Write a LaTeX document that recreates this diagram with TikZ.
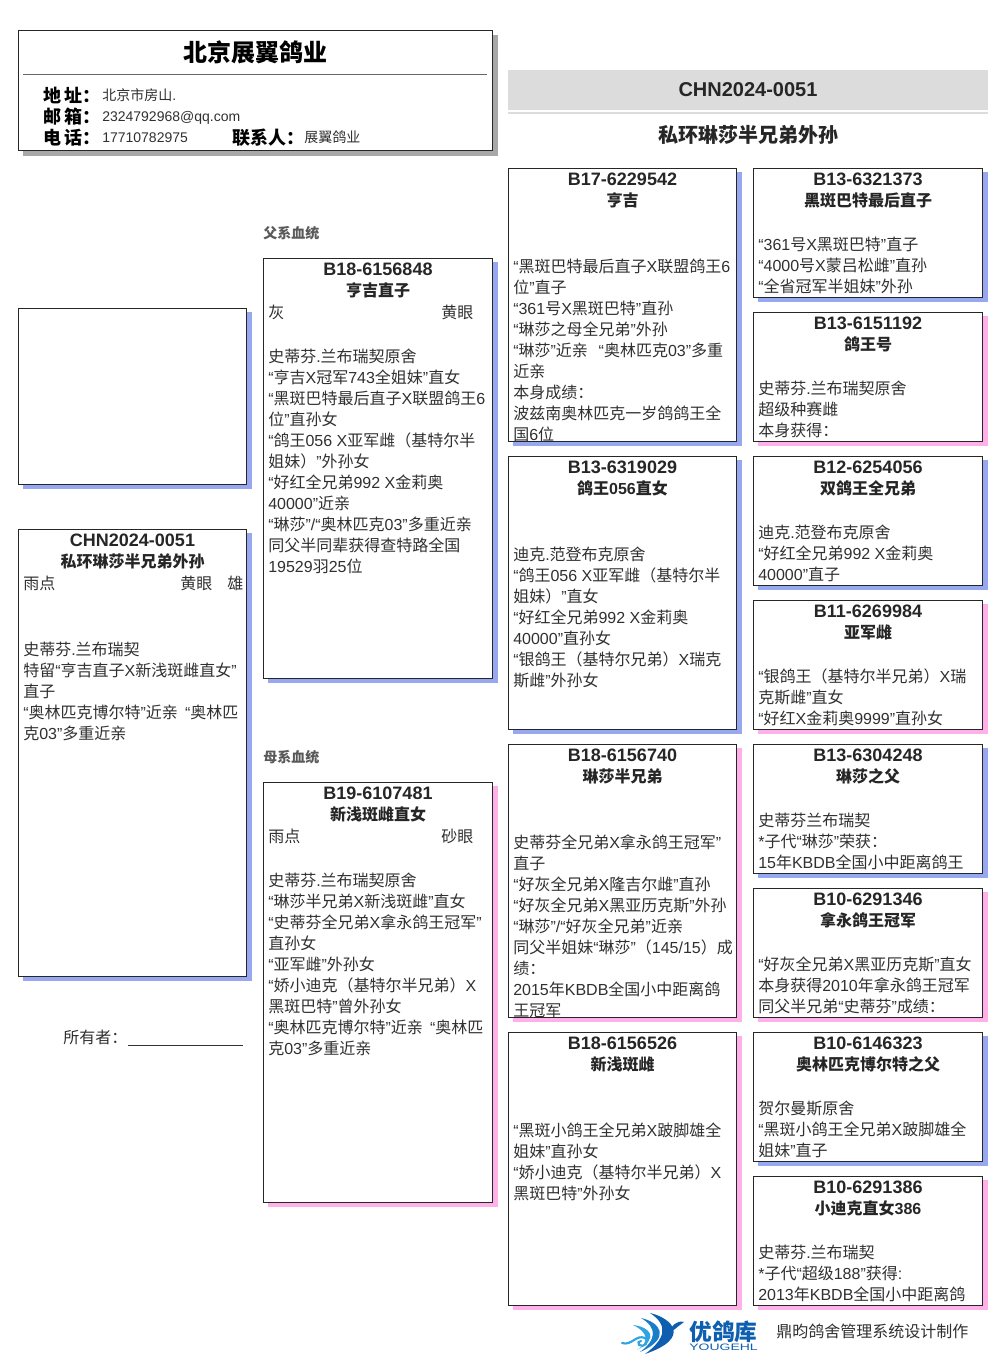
\documentclass[tikz,border=0pt]{standalone}
\usepackage{fontspec}
\setmainfont{Liberation Sans}
\setsansfont{Noto Sans CJK SC}
\XeTeXinterchartokenstate=1
\newXeTeXintercharclass\cjkcl
\newcount\cc
\cc="3000 \loop\ifnum\cc<"3040 \XeTeXcharclass\cc=\cjkcl \advance\cc 1 \repeat
\cc="4E00 \loop\ifnum\cc<"A000 \XeTeXcharclass\cc=\cjkcl \advance\cc 1 \repeat
\cc="FF00 \loop\ifnum\cc<"FFF0 \XeTeXcharclass\cc=\cjkcl \advance\cc 1 \repeat
\XeTeXinterchartoks 0 \cjkcl = {\sffamily}
\XeTeXinterchartoks 4095 \cjkcl = {\sffamily}
\XeTeXinterchartoks \cjkcl 0 = {\rmfamily}
\XeTeXinterchartoks 4095 0 = {\rmfamily}
\definecolor{shblue}{HTML}{98A8F0}
\definecolor{shpink}{HTML}{FFB0E8}
\definecolor{shgray}{HTML}{A8A8A8}
\definecolor{bandgray}{HTML}{DCDCDC}
\definecolor{txt}{HTML}{303030}
\definecolor{logoblue}{HTML}{0F5FB0}
\definecolor{logomid}{HTML}{1B7CC8}
\definecolor{logocyan}{HTML}{2FA4E0}
\tikzset{
 x=0.75pt,y=-0.75pt,
 frame/.style={draw=black!85,fill=white,line width=0.75pt},
 ttl/.style={anchor=center,inner sep=0,font=\bfseries\fontsize{13.5}{16}\selectfont,text=black!85},
 ttlb/.style={anchor=center,inner sep=0,font=\bfseries\fontsize{12}{16}\selectfont,text=black!85},
 bodytxt/.style={anchor=north west,inner sep=0,align=left,text=txt,font=\fontsize{12}{15.75}\selectfont},
 onel/.style={anchor=base west,inner sep=0,text=txt,font=\fontsize{12}{15.75}\selectfont},
 small/.style={anchor=base west,inner sep=0,text=txt,font=\fontsize{10.5}{12}\selectfont},
 head/.style={anchor=base west,inner sep=0,text=black,font=\bfseries\fontsize{13.5}{16}\selectfont},
 sect/.style={anchor=base west,inner sep=0,font=\bfseries\fontsize{10.5}{12}\selectfont,text=black!65},
 bandtxt/.style={anchor=center,inner sep=0,font=\bfseries\fontsize{15}{18}\selectfont,text=black!85},
}
\newcommand{\fs}{\rule{0pt}{11.5pt}}
\newcommand{\pbox}[6]{%name x1 y1 x2 y2 shadow
 \fill[#6] (#2+5,#3+4) rectangle (#4+5,#5+5);
 \draw[frame] (#2+0.3,#3+0.5) rectangle (#4-0.3,#5+0.2);
 \coordinate (#1) at (#2,#3);
 \def\pbx{#2}\def\pby{#3}\def\pbxx{#4}\def\pbyy{#5}\def\pbn{#1}%
}
\newcommand{\ptitle}[2]{%
 \node[ttl] (\pbn a) at ({(\pbx+\pbxx)/2},\pby+11) {#1};
 \node[ttlb] (\pbn b) at ({(\pbx+\pbxx)/2},\pby+32.5) {#2};
}
\newcommand{\pbody}[2]{% first-line centre y, text
 \begin{scope}
 \clip (\pbx,\pby) rectangle (\pbxx,\pbyy);
 \node[bodytxt] (\pbn c) at (\pbx+5,#1-9.3) {\fs #2};
 \end{scope}
}
\begin{document}
\begin{tikzpicture}
\useasboundingbox (0,0) rectangle (1006,1366);
\fill[white] (0,0) rectangle (1006,1366);
% header
\fill[shgray] (23,35) rectangle (498,156);
\draw[frame] (18.3,30.5) rectangle (492.7,151);
\node[anchor=center,inner sep=0,font=\bfseries\fontsize{18}{20}\selectfont,text=black] (co) at (255.5,52) {北京展翼鸽业};
\coordinate (rl) at (23,74.5); \coordinate (rr) at (487,74.5);
\draw[black!60,line width=0.75pt] (rl) -- (rr);
\node[head] (h1) at (43,102.5) {地\,址：};
\node[head] (h2) at (43,123.5) {邮\,箱：};
\node[head] (h3) at (43,144.5) {电\,话：};
\node[head] (h4) at (232,144.5) {联系人：};
\node[small] (v1) at (102,101) {北京市房山.};
\node[small] (v2) at (102,122) {2324792968@qq.com};
\node[small] (v3) at (102,143) {17710782975};
\node[small] (v4) at (304,143) {展翼鸽业};
% band
\fill[bandgray] (508,70) rectangle (988,110);
\fill[bandgray] (508,112) rectangle (988,114);
\node[bandtxt] (rn) at (748,90) {CHN2024-0051};
\node[bandtxt] (nm) at (748,134.5) {私环琳莎半兄弟外孙};
% labels
\node[sect] (fa) at (263,238) {父系血统};
\node[sect] (mo) at (263,762) {母系血统};
% photo
\pbox{photo}{18}{308}{247}{484}{shblue}
% main
\pbox{main}{18}{529}{247}{976}{shblue}
\ptitle{CHN2024-0051}{私环琳莎半兄弟外孙}
\node[onel] (m1) at (23,589) {雨点};
\node[onel] (m2) at (180,589) {黄眼};
\node[onel] (m3) at (227,589) {雄};
\pbody{649}{史蒂芬.兰布瑞契\\特留“亨吉直子X新浅斑雌直女”\\直子\\“奥林匹克博尔特”近亲~~“奥林匹\\克03”多重近亲}
\node[onel] (own) at (63,1043) {所有者：};
\coordinate (ol) at (128,1045); \coordinate (or) at (243,1045);
\draw[black!80,line width=0.75pt] (ol) -- (or);
% sire
\pbox{s}{263}{258}{493}{678}{shblue}
\ptitle{B18-6156848}{亨吉直子}
\node[onel] (s1) at (268,318) {灰};
\node[onel] (s2) at (441,318) {黄眼};
\pbody{356}{史蒂芬.兰布瑞契原舍\\“亨吉X冠军743全姐妹”直女\\“黑斑巴特最后直子X联盟鸽王6\\位”直孙女\\“鸽王056 X亚军雌（基特尔半\\姐妹）”外孙女\\“好红全兄弟992 X金莉奥\\40000”近亲\\“琳莎”/“奥林匹克03”多重近亲\\同父半同辈获得查特路全国\\19529羽25位}
% dam
\pbox{d}{263}{782}{493}{1202}{shpink}
\ptitle{B19-6107481}{新浅斑雌直女}
\node[onel] (d1) at (268,842) {雨点};
\node[onel] (d2) at (441,842) {砂眼};
\pbody{880}{史蒂芬.兰布瑞契原舍\\“琳莎半兄弟X新浅斑雌”直女\\“史蒂芬全兄弟X拿永鸽王冠军”\\直孙女\\“亚军雌”外孙女\\“娇小迪克（基特尔半兄弟）X\\黑斑巴特”曾外孙女\\“奥林匹克博尔特”近亲~~“奥林匹\\克03”多重近亲}
% column 3
\pbox{ss}{508}{168}{737}{441}{shblue}
\ptitle{B17-6229542}{亨吉}
\pbody{266}{“黑斑巴特最后直子X联盟鸽王6\\位”直子\\“361号X黑斑巴特”直孙\\“琳莎之母全兄弟”外孙\\“琳莎”近亲~~~“奥林匹克03”多重\\近亲\\本身成绩：\\波兹南奥林匹克一岁鸽鸽王全\\国6位}
\pbox{sd}{508}{456}{737}{729}{shblue}
\ptitle{B13-6319029}{鸽王056直女}
\pbody{554}{迪克.范登布克原舍\\“鸽王056 X亚军雌（基特尔半\\姐妹）”直女\\“好红全兄弟992 X金莉奥\\40000”直孙女\\“银鸽王（基特尔兄弟）X瑞克\\斯雌”外孙女}
\pbox{ds}{508}{744}{737}{1017}{shpink}
\ptitle{B18-6156740}{琳莎半兄弟}
\pbody{842}{史蒂芬全兄弟X拿永鸽王冠军”\\直子\\“好灰全兄弟X隆吉尔雌”直孙\\“好灰全兄弟X黑亚历克斯”外孙\\“琳莎”/“好灰全兄弟”近亲\\同父半姐妹“琳莎”（145/15）成\\绩：\\2015年KBDB全国小中距离鸽\\王冠军}
\pbox{dd}{508}{1032}{737}{1305}{shpink}
\ptitle{B18-6156526}{新浅斑雌}
\pbody{1130}{“黑斑小鸽王全兄弟X跛脚雄全\\姐妹”直孙女\\“娇小迪克（基特尔半兄弟）X\\黑斑巴特”外孙女}
% column 4
\pbox{a}{753}{168}{983}{297}{shblue}
\ptitle{B13-6321373}{黑斑巴特最后直子}
\pbody{244}{“361号X黑斑巴特”直子\\“4000号X蒙吕松雌”直孙\\“全省冠军半姐妹”外孙}
\pbox{b}{753}{312}{983}{441}{shpink}
\ptitle{B13-6151192}{鸽王号}
\pbody{388}{史蒂芬.兰布瑞契原舍\\超级种赛雌\\本身获得：}
\pbox{c}{753}{456}{983}{585}{shblue}
\ptitle{B12-6254056}{双鸽王全兄弟}
\pbody{532}{迪克.范登布克原舍\\“好红全兄弟992 X金莉奥\\40000”直子}
\pbox{e}{753}{600}{983}{729}{shpink}
\ptitle{B11-6269984}{亚军雌}
\pbody{676}{“银鸽王（基特尔半兄弟）X瑞\\克斯雌”直女\\“好红X金莉奥9999”直孙女}
\pbox{f}{753}{744}{983}{873}{shblue}
\ptitle{B13-6304248}{琳莎之父}
\pbody{820}{史蒂芬兰布瑞契\\*子代“琳莎”荣获：\\15年KBDB全国小中距离鸽王}
\pbox{g}{753}{888}{983}{1017}{shpink}
\ptitle{B10-6291346}{拿永鸽王冠军}
\pbody{964}{“好灰全兄弟X黑亚历克斯”直女\\本身获得2010年拿永鸽王冠军\\同父半兄弟“史蒂芬”成绩：}
\pbox{h}{753}{1032}{983}{1161}{shblue}
\ptitle{B10-6146323}{奥林匹克博尔特之父}
\pbody{1108}{贺尔曼斯原舍\\“黑斑小鸽王全兄弟X跛脚雄全\\姐妹”直子}
\pbox{i}{753}{1176}{983}{1305}{shpink}
\ptitle{B10-6291386}{小迪克直女386}
\pbody{1252}{史蒂芬.兰布瑞契\\*子代“超级188”获得:\\2013年KBDB全国小中距离鸽}
% logo
\fill[logoblue] (650,1313) .. controls (672,1318) and (692,1338) .. (645,1354) .. controls (664,1340) and (670,1326) .. (650,1313) -- cycle;
\fill[logomid] (641,1318) .. controls (660,1322) and (672,1338) .. (640,1352) .. controls (656,1340) and (658,1328) .. (641,1318) -- cycle;
\fill[logocyan] (633,1325) .. controls (650,1327) and (660,1338) .. (637,1350) .. controls (650,1342) and (648,1332) .. (633,1325) -- cycle;
\draw[logocyan,line width=1.6pt,line cap=round] (622,1343) .. controls (632,1346) and (636,1334) .. (645,1338) .. controls (650,1342) and (644,1348) .. (639,1345) .. controls (637,1343) and (639,1341) .. (641,1341);
\fill[logoblue] (684,1322) .. controls (676,1320) and (672,1326) .. (668,1333) .. controls (674,1331) and (678,1326) .. (680,1325) -- cycle;
\node[anchor=center,inner sep=0,font=\bfseries\fontsize{17}{20}\selectfont,text=logoblue] (lg) at (723.5,1332) {优鸽库};
\node[anchor=center,inner sep=0,xscale=1.5,font=\fontsize{7}{9}\selectfont,text=logoblue] (lgs) at (723.5,1347) {YOUGEHL};
\node[anchor=base west,inner sep=0,text=txt,font=\fontsize{12}{14}\selectfont] (mk) at (776,1337) {鼎昀鸽舍管理系统设计制作};
\end{tikzpicture}
\end{document}
